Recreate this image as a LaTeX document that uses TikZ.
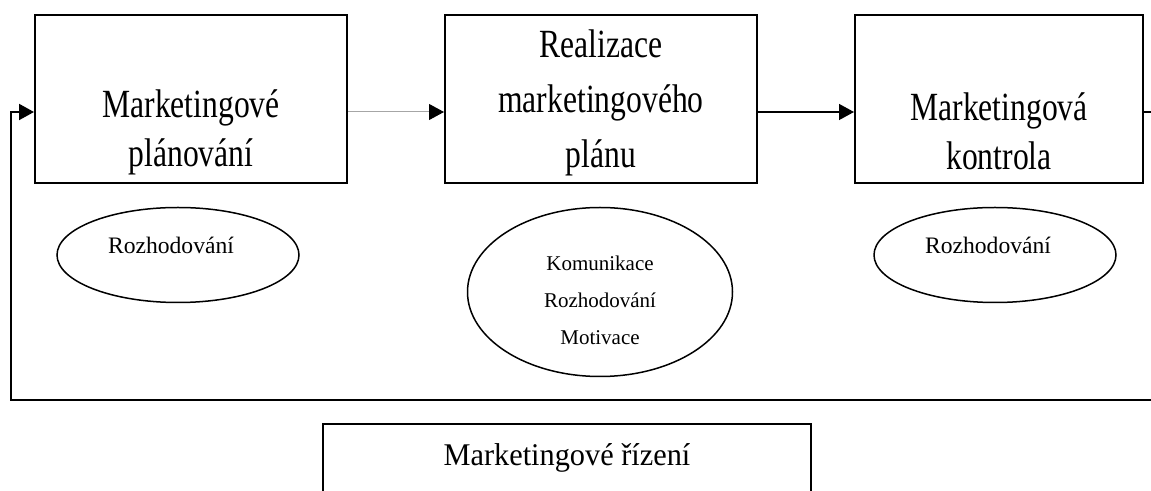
\documentclass[tikz,border=0pt]{standalone}
\usepackage{fontspec}
\setmainfont{Liberation Serif}
\newfontfamily\boxfont[FakeStretch=0.79]{Liberation Serif}
\newfontfamily\lowfont[FakeStretch=0.96]{Liberation Serif}
\usetikzlibrary{arrows.meta,positioning,shapes.geometric}
\definecolor{softgray}{HTML}{A6A6A6}

\begin{document}
\begin{tikzpicture}[
  x=0.5pt,y=-0.5pt,
  box/.style={draw,line width=1pt,align=center,minimum width=156pt,minimum height=84pt,inner sep=0pt,font=\boxfont\fontsize{20}{24.5}\selectfont},
  ell/.style={draw,ellipse,line width=0.75pt,align=center,inner sep=0pt,minimum width=121pt,minimum height=47.5pt,font=\fontsize{11.8}{14}\selectfont},
  arr/.style={-{Triangle[length=7.5pt,width=8pt]},line width=0.7pt},
  thinarr/.style={-{Triangle[length=7.5pt,width=8pt,color=black]},line width=0.5pt,draw=softgray}
]
\useasboundingbox (0,0) rectangle (1151,491);
\clip (0,0) rectangle (1151,491);
\node[box] (plan) at (191,99) {\rule{0pt}{47.2pt}Marketingové\\plánování};
\node[box,right=48pt of plan,font=\boxfont\fontsize{20}{27.5}\selectfont] (real) {\rule{0pt}{17.4pt}Realizace\\marketingového\\plánu};
\node[box,minimum width=144pt,right=48pt of real] (kontrola) {\rule{0pt}{46.5pt}Marketingová\\kontrola};
\node[ell] (roz1) at (178,255) {\raisebox{10pt}{Rozhodování}\hspace{7pt}};
\node[ell,minimum width=132.5pt,minimum height=84.5pt,font=\fontsize{10.5}{18.5}\selectfont] (kom) at (600,292) {\mbox{}\\[-3pt]Komunikace\\Rozhodování\\Motivace};
\node[ell] (roz2) at (995,255) {\raisebox{10pt}{Rozhodování}\hspace{7pt}};
\node[box,minimum width=244pt,minimum height=50.2pt,anchor=north,font=\lowfont\fontsize{15.8}{20}\selectfont] (rizeni) at (567,423) {Marketingové řízení\\\mbox{}};
\coordinate (out) at (1151,112);
\coordinate (back) at (1151,400);
\coordinate (corner) at (11,400);
\draw[thinarr] ([yshift=-6.5pt]plan.east) -- ([yshift=-6.5pt]real.west);
\draw[arr] ([yshift=-6.5pt]real.east) -- ([yshift=-6.5pt]kontrola.west);
\draw[line width=0.7pt] ([yshift=-6.5pt]kontrola.east) -- (out);
\draw[arr,line width=1pt] (back) -- (corner) |- ([yshift=-6.5pt]plan.west);
\end{tikzpicture}
\end{document}
